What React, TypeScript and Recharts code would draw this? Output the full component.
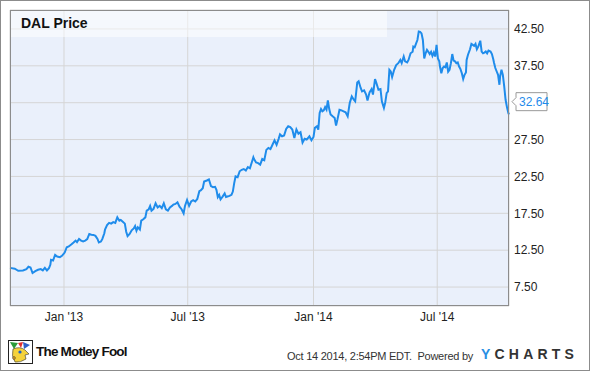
import { CartesianGrid, Line, LineChart, ReferenceLine, XAxis, YAxis } from "recharts";

// days since 2012-10-14
const DAYS = [
  0, 7, 12, 19, 24, 27, 30, 33, 37, 41, 45, 48, 51, 54, 57, 59, 60, 63, 66, 69, 73, 76, 80, 83, 86, 90, 93, 96, 98, 101,
  104, 107, 110, 113, 116, 119, 122, 125, 128, 130, 133, 135, 138, 139, 142, 145, 148, 151, 154, 157, 160, 162, 165, 168,
  170, 172, 175, 178, 181, 183, 185, 187, 190, 192, 195, 198, 200, 203, 205, 207, 210, 213, 216, 219, 222, 225, 228, 231,
  234, 237, 239, 242, 245, 248, 251, 254, 256, 259, 262, 265, 268, 271, 274, 277, 279, 282, 284, 288, 291, 294, 297, 300,
  302, 304, 306, 308, 311, 314, 316, 318, 321, 324, 326, 328, 330, 333, 336, 339, 342, 345, 348, 351, 354, 356, 357, 360,
  363, 366, 369, 372, 375, 378, 381, 384, 387, 390, 393, 395, 398, 401, 404, 407, 410, 413, 416, 419, 422, 425, 428, 431,
  434, 438, 441, 444, 446, 449, 451, 453, 455, 457, 459, 461, 463, 465, 467, 469, 472, 475, 477, 479, 482, 485, 488, 491,
  494, 497, 500, 503, 505, 508, 510, 513, 515, 518, 521, 523, 526, 529, 531, 534, 536, 539, 542, 544, 547, 549, 551, 553,
  555, 557, 559, 562, 565, 568, 571, 573, 576, 578, 581, 583, 586, 589, 590, 592, 594, 596, 598, 600, 602, 604, 606, 608,
  610, 612, 614, 616, 618, 620, 622, 624, 626, 628, 629, 631, 633, 635, 637, 639, 641, 643, 645, 647, 649, 651, 653, 655,
  657, 659, 661, 663, 665, 667, 668, 670, 673, 675, 677, 679, 681, 683, 685, 688, 690, 692, 694, 696, 698, 700, 703, 705,
  707, 708, 710, 712, 714, 716, 717, 719, 721, 723, 725, 727, 729, 730,
];

const PRICES = [
  10.1, 9.98, 9.7, 9.75, 9.93, 10.25, 10.16, 9.4, 9.66, 9.84, 9.93, 9.75, 10.1, 9.75, 10.07, 10.52, 11.2, 11.1, 11.87,
  11.64, 11.55, 11.73, 12.18, 12.9, 13.0, 13.3, 13.54, 13.8, 13.6, 14.03, 13.8, 13.7, 13.8, 13.99, 14.7, 14.6, 14.57,
  14.44, 14.03, 13.54, 13.67, 13.99, 14.8, 15.3, 15.9, 16.2, 16.1, 16.3, 16.2, 16.95, 16.5, 16.6, 16.36, 16.1, 15.0, 14.4,
  14.7, 15.2, 15.45, 15.77, 15.14, 15.6, 15.3, 16.5, 16.7, 16.95, 17.86, 18.05, 18.5, 17.86, 18.1, 18.86, 18.3, 18.5,
  18.2, 18.86, 18.05, 17.86, 18.3, 18.5, 18.68, 18.77, 19.0, 18.4, 18.05, 17.5, 18.5, 19.3, 18.5, 19.1, 19.27, 19.1,
  19.45, 20.5, 20.6, 20.9, 21.8, 21.95, 22.1, 21.2, 21.05, 21.1, 20.7, 19.7, 20.0, 19.4, 19.77, 20.2, 19.7, 19.77, 19.86,
  20.0, 20.45, 21.6, 22.5, 22.4, 23.2, 23.4, 23.5, 23.3, 23.77, 23.6, 24.5, 25.1, 24.86, 24.4, 24.3, 24.1, 24.86, 24.7,
  26.1, 26.36, 26.2, 26.8, 27.4, 26.8, 27.6, 28.2, 27.95, 28.05, 28.95, 29.3, 29.2, 28.86, 27.7, 28.86, 28.3, 28.5, 27.1,
  27.6, 27.5, 27.95, 27.4, 27.86, 29.08, 29.3, 28.85, 31.1, 31.64, 31.33, 31.46, 31.9, 31.55, 32.8, 31.64, 30.9, 30.65,
  30.43, 29.4, 30.2, 31.55, 31.46, 31.33, 31.2, 30.65, 32.45, 33.35, 32.9, 32.68, 35.25, 35.4, 34.5, 34.03, 34.17, 33.6,
  32.8, 33.9, 34.35, 33.6, 35.7, 35.16, 34.26, 34.35, 32.68, 31.78, 32.54, 33.8, 34.03, 36.96, 36.73, 35.97, 36.96, 37.6,
  37.86, 38.3, 37.86, 38.76, 38.1, 37.95, 38.3, 39.2, 39.4, 40.1, 40.0, 40.5, 41.0, 42.15, 42.1, 41.9, 41.0, 38.5, 39.2,
  39.66, 39.4, 39.1, 39.4, 38.85, 39.3, 38.76, 40.34, 38.5, 38.1, 37.4, 36.5, 37.2, 37.4, 37.3, 37.95, 36.7, 36.96, 37.86,
  39.1, 38.2, 38.1, 37.86, 37.95, 37.4, 37.05, 36.5, 35.7, 36.28, 36.6, 38.3, 39.0, 39.75, 40.47, 40.34, 40.2, 40.47,
  39.75, 40.1, 40.9, 39.44, 39.2, 39.3, 39.44, 39.2, 39.57, 39.44, 39.1, 38.4, 37.95, 37.2, 36.73, 36.28, 34.93, 36.06,
  36.96, 36.28, 34.7, 32.9, 31.9, 31.1, 30.9,
];

const LAST_PRICE = 32.64;
const X_TICKS = [79, 260, 444, 625];
const X_LABELS = ["Jan '13", "Jul '13", "Jan '14", "Jul '14"];
const Y_TICKS = [7.5, 12.5, 17.5, 22.5, 27.5, 32.5, 37.5, 42.5];
const HIDDEN_Y_TICK = 32.5; // covered by the last-price flag

const data = DAYS.map((d, i) => ({ day: d, price: PRICES[i] }));

const FONT = '"Liberation Sans", Arial, sans-serif';
const BLUE = "#1f8ceb";

function LastLabel(props: any) {
  const { viewBox } = props;
  const x = viewBox.x + viewBox.width + 3;
  const y = viewBox.y;
  return (
    <g>
      <path
        d={`M${x} ${y} L${x + 4} ${y - 4} L${x + 4} ${y - 9} L${x + 35} ${y - 9} L${x + 35} ${y + 9} L${x + 4} ${y + 9} L${x + 4} ${y + 4} Z`}
        fill="#fff"
        stroke="#9a9a9a"
      />
      <text x={x + 7} y={y + 4} fill={BLUE} fontSize={12} fontFamily={FONT}>
        {LAST_PRICE.toFixed(2)}
      </text>
    </g>
  );
}

function Jester() {
  return (
    <svg width={25} height={24} style={{ position: "absolute", left: 8, top: 340 }}>
      <rect x={0.5} y={0.5} width={24} height={23} fill="#fff" stroke="#222" />
      <path d="M2 2 L10 3 L6 9 Z" fill="#2b9a3a" />
      <path d="M10 3 L15 2 L13 8 Z" fill="#e03030" />
      <path d="M15 2 L22 5 L16 9 Z" fill="#3060c8" />
      <path d="M5 9 Q12 6 17 10 L21 14 L17 15 L18 19 Q12 23 7 22 Q3 16 5 9 Z" fill="#f5d23a" stroke="#333" strokeWidth={0.6} />
      <circle cx={12} cy={12} r={1.6} fill="#2060c0" />
      <circle cx={6} cy={18} r={1.4} fill="#e0a020" stroke="#333" strokeWidth={0.5} />
    </svg>
  );
}

export default function App() {
  return (
    <div
      style={{
        position: "absolute",
        left: 0,
        top: 0,
        width: 590,
        height: 371,
        background: "#fff",
        fontFamily: FONT,
      }}
    >
      <LineChart width={590} height={371} data={data} margin={{ top: 10, right: 0, left: 10, bottom: 41 }}>
        <CartesianGrid stroke="#d5d5d5" fill="#eaf0fb" />
        <XAxis
          dataKey="day"
          type="number"
          domain={[0, 730]}
          ticks={X_TICKS}
          tickFormatter={(v) => X_LABELS[X_TICKS.indexOf(v)]}
          axisLine={false}
          tickLine={false}
          tickSize={0}
          tickMargin={6}
          height={24}
          tick={{ fill: "#222", fontSize: 12, fontFamily: FONT }}
        />
        <YAxis
          orientation="right"
          type="number"
          domain={[4.93, 45.07]}
          ticks={Y_TICKS}
          tickFormatter={(v) => (v === HIDDEN_Y_TICK ? "" : v.toFixed(2))}
          axisLine={false}
          tickLine={false}
          tickSize={0}
          tickMargin={5}
          width={81}
          tick={{ fill: "#222", fontSize: 12, fontFamily: FONT }}
        />
        <Line
          type="linear"
          dataKey="price"
          stroke={BLUE}
          strokeWidth={2}
          dot={false}
          isAnimationActive={false}
        />
        <ReferenceLine y={LAST_PRICE} stroke="none" ifOverflow="visible" label={<LastLabel />} />
      </LineChart>

      {/* title band */}
      <div
        style={{
          position: "absolute",
          left: 11,
          top: 11,
          width: 376,
          height: 26,
          background: "rgba(255,255,255,0.5)",
        }}
      />
      <div style={{ position: "absolute", left: 21, top: 15, fontSize: 14, fontWeight: "bold", color: "#111" }}>
        DAL Price
      </div>
      {/* plot frame */}
      <div
        style={{
          position: "absolute",
          left: 10,
          top: 10,
          width: 499,
          height: 296,
          boxSizing: "border-box",
          border: "1px solid #8c8c8c",
          pointerEvents: "none",
        }}
      />
      {/* outer frame */}
      <div
        style={{
          position: "absolute",
          left: 0,
          top: 0,
          width: 590,
          height: 371,
          boxSizing: "border-box",
          border: "1px solid #8c8c8c",
          pointerEvents: "none",
        }}
      />

      <Jester />
      <div
        style={{
          position: "absolute",
          left: 36,
          top: 344,
          fontSize: 13.5,
          fontWeight: "bold",
          letterSpacing: -0.8,
          color: "#111",
        }}
      >
        The Motley Fool
      </div>
      <div
        style={{
          position: "absolute",
          left: 287,
          top: 350,
          fontSize: 11,
          letterSpacing: -0.25,
          color: "#333",
          whiteSpace: "pre",
        }}
      >
        {"Oct 14 2014, 2:54PM EDT.  Powered by"}
      </div>
      <div
        style={{
          position: "absolute",
          left: 481,
          top: 346,
          fontSize: 14,
          fontWeight: "bold",
          letterSpacing: 4.2,
          color: "#333",
        }}
      >
        <span style={{ color: "#2a8fe4" }}>Y</span>CHARTS
      </div>
    </div>
  );
}
